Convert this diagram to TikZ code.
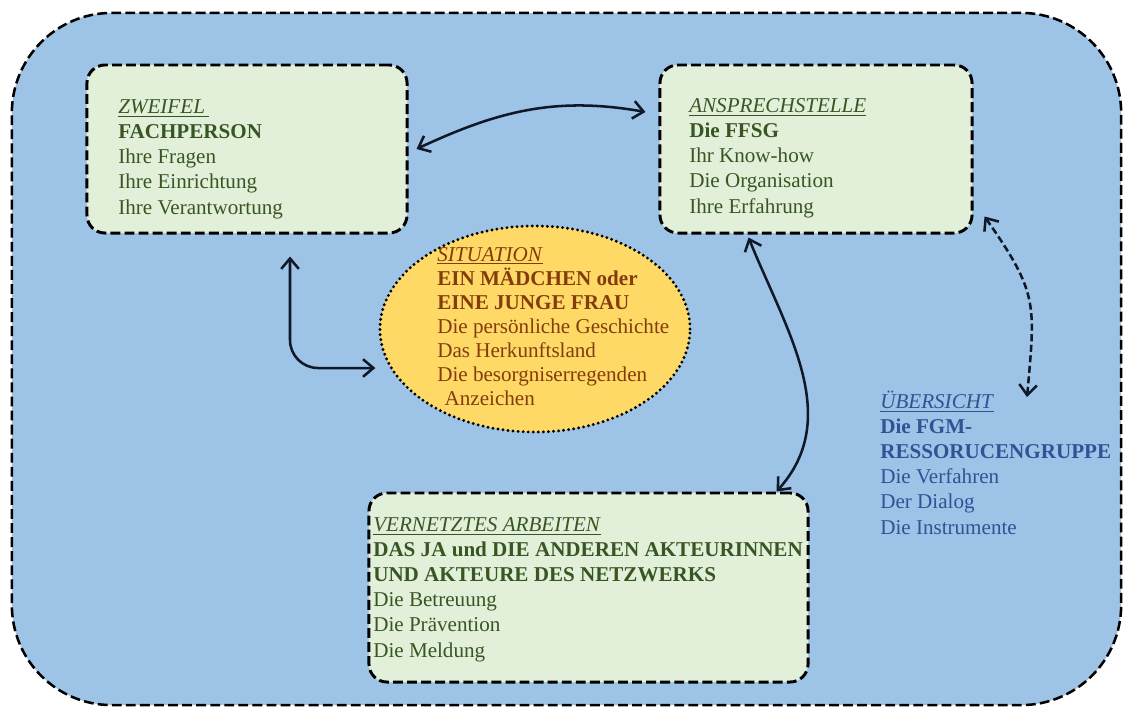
\documentclass[tikz,border=0pt]{standalone}
\usepackage{fontspec}
\setmainfont{Liberation Serif}
\usetikzlibrary{arrows.meta, positioning, shapes.geometric}
\definecolor{outerblue}{HTML}{9DC3E6}
\definecolor{boxgreen}{HTML}{E2EFD9}
\definecolor{sitgold}{HTML}{FFD966}
\definecolor{txtgreen}{HTML}{385623}
\definecolor{txtbrown}{HTML}{843C0C}
\definecolor{txtblue}{HTML}{2F5496}
\definecolor{arrowc}{HTML}{101828}
\tikzstyle{outerbox} = [rectangle, rounded corners=2.5cm, draw=black, line width=1.8pt, dash pattern=on 7pt off 3pt, fill=outerblue, minimum width=27.725cm, minimum height=17.3cm, inner sep=0pt]
\tikzstyle{topic} = [rectangle, rounded corners=0.45cm, draw=black, line width=2.1pt, dash pattern=on 7pt off 3pt, fill=boxgreen, inner sep=0pt]
\tikzstyle{sitnode} = [ellipse, draw=black, line width=2.3pt, dash pattern=on 0pt off 3.6pt, line cap=round, fill=sitgold, minimum width=7.75cm, minimum height=5.15cm, inner sep=0pt]
\tikzstyle{info} = [align=left, inner sep=0pt, anchor=base west, font=\fontsize{15pt}{17.8pt}\selectfont]
\tikzstyle{link} = [line width=1.8pt, draw=arrowc, <->, >={Straight Barb[length=2.6mm,width=4.4mm]}]
\tikzstyle{loose} = [link, dash pattern=on 5pt off 2.5pt]

\begin{document}
\begin{tikzpicture}[x=0.025cm, y=-0.025cm]
        \useasboundingbox (0,0) rectangle (1125,711);
        % background panel
        \node (panel) [outerbox] at (566.5,359) {};
        % the three boxes
        \node (zweifel) [topic, minimum width=8cm, minimum height=4.2cm] at (247,149) {};
        \node (ansprech) [topic, minimum width=7.8cm, minimum height=4.2cm] at (816,149) {};
        \node (vernetzt) [topic, minimum width=10.975cm, minimum height=4.725cm] at (588.5,587.5) {};
        % the situation in the middle
        \node (sit) [sitnode] at (535,329) {};

        % texts (placed at the baseline of their last line)
        \node (zweifeltxt) [info, text=txtgreen] at (118,214) {\underline{\textit{ZWEIFEL}\,}\\ \textbf{FACHPERSON}\\ Ihre Fragen\\ Ihre Einrichtung\\ Ihre Verantwortung};
        \node (ansprechtxt) [info, text=txtgreen] at (689,213) {\underline{\textit{ANSPRECHSTELLE}}\\ \textbf{Die FFSG}\\ Ihr Know-how\\ Die Organisation\\ Ihre Erfahrung};
        \node (sittxt) [info, text=txtbrown, font=\fontsize{15pt}{17pt}\selectfont] at (437,405) {\underline{\textit{SITUATION}}\\ \textbf{EIN MÄDCHEN oder}\\ \textbf{EINE JUNGE FRAU}\\ Die persönliche Geschichte\\ Das Herkunftsland\\ Die besorgniserregenden\\ \hspace*{0.35em}Anzeichen};
        \node (vernetzttxt) [info, text=txtgreen] at (373,657) {\underline{\textit{VERNETZTES ARBEITEN}}\\ \textbf{DAS JA und DIE ANDEREN AKTEURINNEN}\\ \textbf{UND AKTEURE DES NETZWERKS}\\ Die Betreuung\\ Die Prävention\\ Die Meldung};
        \node (uebersicht) [info, text=txtblue] at (880,534) {\underline{\textit{ÜBERSICHT}}\\ \textbf{Die FGM-}\\ \textbf{RESSORUCENGRUPPE}\\ Die Verfahren\\ Der Dialog\\ Die Instrumente};

        % connections
        \draw [link] ([xshift=0.2cm]zweifel.east) to[out=25,in=170] ([xshift=-0.325cm,yshift=0.925cm]ansprech.west);
        \draw [link, rounded corners=0.7cm] ([xshift=1.075cm,yshift=-0.55cm]zweifel.south) |- ([xshift=-0.075cm,yshift=-0.975cm]sit.west);
        \draw [link] ([xshift=2.25cm,yshift=-0.075cm]ansprech.south west) to[out=-68,in=48] ([xshift=-0.825cm]vernetzt.north east);
        \draw [loose] ([xshift=0.275cm,yshift=0.45cm]ansprech.south east) to[out=-55,in=85,looseness=1.3] ([xshift=3.675cm,yshift=-0.15cm]uebersicht.north west);

      \end{tikzpicture}
\end{document}
